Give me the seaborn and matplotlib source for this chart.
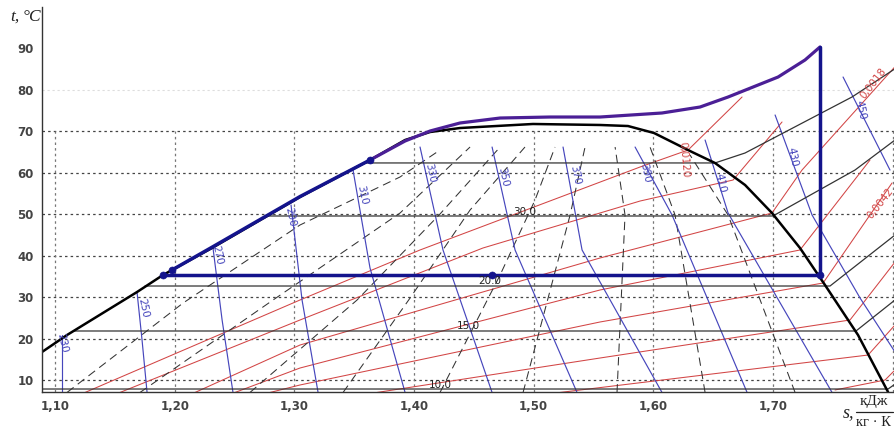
import numpy as np
import pandas as pd
import matplotlib
matplotlib.use("Agg")
import matplotlib.pyplot as plt
import seaborn as sns

# пограничные кривые
dome_s = [1.0891, 1.1100, 1.1685, 1.1902, 1.2312, 1.3047, 1.3632, 1.3925, 1.4134, 1.4384,
          1.4994, 1.5554, 1.5788, 1.6005, 1.6323, 1.6515, 1.6766, 1.6991, 1.7225, 1.7434,
          1.7710, 1.7961]
dome_t = [16.75, 20.84, 31.20, 35.30, 41.81, 54.10, 63.01, 67.83, 69.76, 70.72,
          71.69, 71.45, 71.20, 69.52, 64.94, 62.29, 56.99, 50.24, 41.81, 32.89,
          20.84, 7.11]

# цикл
cycle_liq_s = [1.1977, 1.2312, 1.3047, 1.3632]
cycle_liq_t = [36.5, 42.0, 54.2, 63.01]
cycle_vap_s = [1.3632, 1.3925, 1.4134, 1.4384, 1.4719, 1.5136, 1.5554, 1.6072, 1.6390,
               1.6624, 1.7042, 1.7267, 1.7392]
cycle_vap_t = [63.01, 67.59, 70.00, 71.93, 73.13, 73.37, 73.37, 74.34, 75.78,
               78.19, 83.01, 87.11, 90.24]
cycle_comp_s = [1.7392, 1.7392, 1.1902]
cycle_comp_t = [90.24, 35.3, 35.3]
points_s = [1.1902, 1.1977, 1.3632, 1.4651, 1.7392]
points_t = [35.3, 36.5, 63.01, 35.3, 35.3]

# изоэнтальпы, кДж/кг
h_labels = ["230", "250", "270", "290", "310", "330", "350", "370", "390", "410", "430", "450"]
h_s = [[1.1058, 1.1058], [1.1685, 1.1727, 1.1769], [1.2320, 1.2396, 1.2487],
       [1.2972, 1.3064, 1.3198], [1.3490, 1.3632, 1.3925], [1.4050, 1.4242, 1.4652],
       [1.4652, 1.4844, 1.5362], [1.5245, 1.5404, 1.6072], [1.5847, 1.6156, 1.6783],
       [1.6432, 1.6624, 1.7493], [1.7017, 1.7326, 1.7727, 1.8019], [1.7585, 1.7977]]
h_t = [[20.84, 7.0], [31.20, 19.64, 7.0], [41.81, 24.46, 7.0],
       [52.17, 29.28, 7.0], [60.60, 37.0, 7.0], [66.14, 41.33, 7.0],
       [66.14, 41.33, 7.0], [66.14, 41.33, 7.0], [66.14, 49.76, 7.0],
       [67.83, 50.24, 7.0], [73.86, 49.76, 29.76, 16.75], [83.01, 60.60]]
h_lab_s = [1.1058, 1.1735, 1.2354, 1.2964, 1.3565, 1.4134, 1.4744, 1.5345, 1.5930, 1.6557, 1.7159, 1.7727]
h_lab_t = [18.9, 27.4, 40.1, 49.3, 54.6, 59.9, 58.9, 59.4, 59.9, 57.5, 63.7, 75.1]

# линии постоянной степени сухости
x_s = [[1.1100, 1.2070, 1.3047, 1.3883, 1.4217], [1.1710, 1.2822, 1.3883, 1.4468],
       [1.2629, 1.3524, 1.4217, 1.4719], [1.3407, 1.3967, 1.4468, 1.4927],
       [1.4217, 1.4719, 1.5011, 1.5178], [1.4911, 1.5304, 1.5429],
       [1.5696, 1.5763, 1.5680], [1.6432, 1.6181, 1.5972],
       [1.7184, 1.6624, 1.6306]]
x_t = [[7.0, 28.55, 47.35, 58.92, 65.42], [7.0, 29.28, 50.24, 66.14],
       [7.0, 29.28, 50.0, 66.14], [7.0, 29.76, 50.96, 66.14],
       [7.0, 35.30, 53.37, 66.14], [7.0, 49.76, 66.14],
       [7.0, 49.76, 66.14], [7.0, 49.76, 66.14],
       [7.0, 49.76, 64.22]]

# изобары, бар
p_s = [[1.3599, 1.6515, 1.6766, 1.7660, 1.8019], [1.2772, 1.6999, 1.7685, 1.8019],
       [1.1752, 1.7476, 1.8019], [1.1155, 1.7693, 1.8019], [1.0891, 1.7961, 1.8019]]
p_t = [[62.3, 62.3, 64.7, 78.2, 85.0], [49.52, 49.52, 60.6, 67.83],
       [32.65, 32.65, 44.94], [21.81, 21.81, 29.28], [7.83, 7.83, 9.0]]
p_labels = ["30.0", "20.0", "15.0", "10.0"]
p_lab_s = [1.4927, 1.4635, 1.4451, 1.4217]
p_lab_t = [50.5, 33.9, 23.0, 8.8]

# изохоры, м3/кг
v_s = [[1.1251, 1.3047, 1.4050, 1.5889, 1.6290, 1.6741],
       [1.1543, 1.3047, 1.4576, 1.5889, 1.6666, 1.7075],
       [1.2170, 1.3047, 1.5554, 1.6991, 1.7242, 1.8019],
       [1.2504, 1.3047, 1.5554, 1.7225, 1.7810],
       [1.2797, 1.3047, 1.5554, 1.7418, 1.7994],
       [1.3691, 1.5554, 1.7643, 1.8019],
       [1.5220, 1.7794, 1.8019],
       [1.7518, 1.7936, 1.8019]]
v_t = [[7.0, 29.28, 41.33, 61.33, 65.42, 78.19],
       [7.0, 24.46, 41.81, 53.13, 58.19, 72.17],
       [7.0, 18.43, 39.40, 50.24, 60.60, 85.5],
       [7.0, 12.89, 31.69, 41.33, 63.0],
       [7.0, 8.80, 23.98, 33.37, 57.47],
       [7.0, 15.30, 24.46, 38.43],
       [7.0, 16.02, 23.26],
       [7.6, 10.0, 12.41]]
v_labels = ["0,0018", "0,0042", "0,0120"]
v_lab_s = [1.7835, 1.7894, 1.6256]
v_lab_t = [81.6, 52.6, 63.0]
v_lab_rot = [52, 52, -85]


def long_frame(s_lists, t_lists):
    rows = []
    for i, (ss, tt) in enumerate(zip(s_lists, t_lists)):
        for k, (s, t) in enumerate(zip(ss, tt)):
            rows.append({"line": i, "order": k, "s": s, "t": t})
    return pd.DataFrame(rows)


sns.set_theme(style="white")
plt.rcParams["font.family"] = ["DejaVu Sans"]

fig = plt.figure(figsize=(8.95, 4.29), dpi=100)
ax = fig.add_axes([42 / 895, 37 / 429, 853 / 895, 385 / 429])
ax.set_xlim(1.0891, 1.8019)
ax.set_ylim(7.11, 99.88)

# сетка (только до 70 °C)
for y in range(10, 80, 10):
    ax.axhline(y, color="#444444", lw=0.9, ls=(0, (2, 2.5)), zorder=0)
ax.axhline(80, color="#dddddd", lw=0.8, ls=(0, (2, 2.5)), zorder=0)
for x in np.arange(1.10, 1.81, 0.10):
    ax.vlines(x, 7.11, 70, color="#777777", lw=0.9, ls=(0, (2, 2.5)), zorder=0)

kw = dict(x="s", y="t", units="line", estimator=None, sort=False, legend=False, ax=ax)
sns.lineplot(data=long_frame(v_s, v_t), color="#d24545", lw=0.75, **kw)
sns.lineplot(data=long_frame(x_s, x_t), color="#333333", lw=0.75, linestyle=(0, (8, 5)), **kw)
sns.lineplot(data=long_frame(h_s, h_t), color="#4646bc", lw=0.85, **kw)
sns.lineplot(data=long_frame(p_s, p_t), color="#333333", lw=0.9, **kw)

one = dict(sort=False, estimator=None, legend=False, ax=ax)
sns.lineplot(x=dome_s, y=dome_t, color="black", lw=1.8, **one)
sns.lineplot(x=cycle_vap_s, y=cycle_vap_t, color="#4b1f96", lw=2.3, **one)
sns.lineplot(x=cycle_liq_s, y=cycle_liq_t, color="#14148c", lw=2.5, **one)
sns.lineplot(x=cycle_comp_s, y=cycle_comp_t, color="#14148c", lw=2.5, **one)
sns.scatterplot(x=points_s, y=points_t, color="#14148c", s=26, edgecolor="#14148c", zorder=5, ax=ax)

for lab, s, t in zip(h_labels, h_lab_s, h_lab_t):
    ax.text(s, t, lab, color="#4646bc", fontsize=7.5, rotation=-78,
            ha="center", va="center", rotation_mode="anchor")
for lab, s, t, r in zip(v_labels, v_lab_s, v_lab_t, v_lab_rot):
    ax.text(s, t, lab, color="#d24545", fontsize=7.5, rotation=r,
            ha="center", va="center", rotation_mode="anchor")
for lab, s, t in zip(p_labels, p_lab_s, p_lab_t):
    ax.text(s, t, lab, color="#222222", fontsize=7.5, ha="center", va="center")

ax.set_xticks([1.10, 1.20, 1.30, 1.40, 1.50, 1.60, 1.70])
ax.set_xticklabels(["1,10", "1,20", "1,30", "1,40", "1,50", "1,60", "1,70"])
ax.set_yticks(range(10, 100, 10))
ax.tick_params(length=0, labelsize=8.5, colors="#444444", pad=6)
for lab in ax.get_xticklabels() + ax.get_yticklabels():
    lab.set_fontweight("bold")
ax.set_xlabel("")
ax.set_ylabel("")
for side in ["top", "right"]:
    ax.spines[side].set_visible(False)
for side in ["left", "bottom"]:
    ax.spines[side].set_color("#333333")
    ax.spines[side].set_linewidth(1.0)

serif = dict(family="Liberation Serif", color="#222222")
fig.text(10 / 895, 1 - 17 / 429, "t,", style="italic", fontsize=12.5, ha="left", va="center", **serif)
fig.text(23 / 895, 1 - 17 / 429, "°C", style="italic", fontsize=12.5, ha="left", va="center", **serif)
fig.text(843 / 895, 1 - 413 / 429, "s,", style="italic", fontsize=13, ha="left", va="center", **serif)
fig.text(874 / 895, 1 - 401 / 429, "кДж", fontsize=11, ha="center", va="center", **serif)
fig.text(874 / 895, 1 - 423 / 429, "кг · К", fontsize=10.5, ha="center", va="center", **serif)
fig.add_artist(plt.Line2D([856 / 895, 893 / 895], [1 - 412 / 429, 1 - 412 / 429], color="#222222", lw=0.9))

fig.savefig("out.png", dpi=100)
plt.close(fig)
